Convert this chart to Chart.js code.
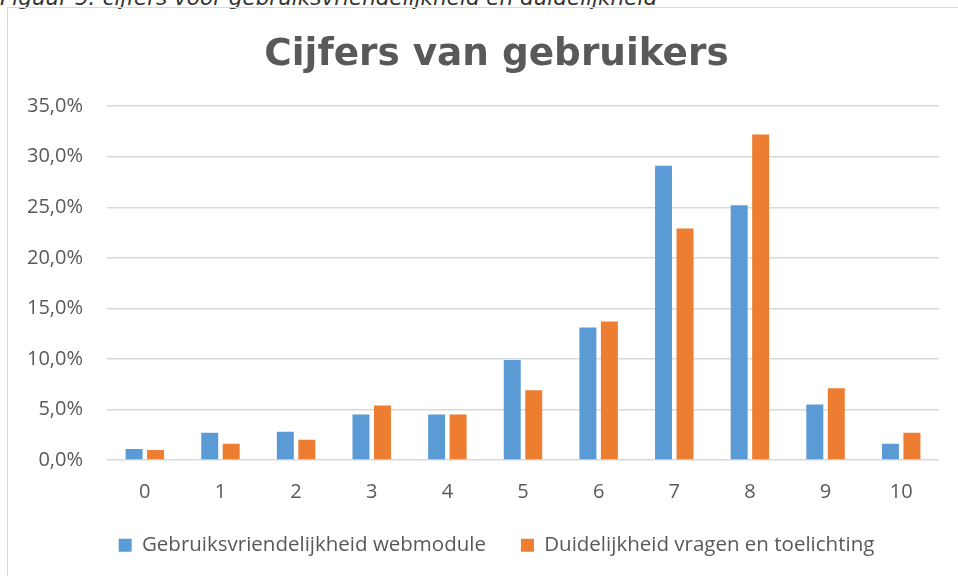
<!DOCTYPE html>
<html>
<head>
<meta charset="utf-8">
<script src="https://cdn.jsdelivr.net/npm/chart.js@4"></script>
<style>
  html, body { margin: 0; padding: 0; background: #fff; width: 958px; height: 576px; overflow: hidden; position: relative; }
  #caption { position: absolute; left: 0; top: -13px; font-family: "DejaVu Sans", sans-serif; font-style: italic; font-size: 21.5px; line-height: 21.5px; color: #333; white-space: nowrap; }
  #frame { position: absolute; left: 7px; top: 7px; border-left: 1px solid #d9d9d9; border-top: 1px solid #d9d9d9; width: 977px; height: 569px; }
  canvas { position: absolute; left: 0; top: 0; }
</style>
</head>
<body>
<div id="caption">Figuur 5: cijfers voor gebruiksvriendelijkheid en duidelijkheid</div>
<div id="frame"><canvas id="c" width="977" height="568"></canvas></div>
<script>
const chartTitle = 'Cijfers van gebruikers';
const categories = ['0', '1', '2', '3', '4', '5', '6', '7', '8', '9', '10'];
const seriesNames = ['Gebruiksvriendelijkheid webmodule', 'Duidelijkheid vragen en toelichting'];
const gebruiksvriendelijkheid = [1.1, 2.7, 2.8, 4.5, 4.5, 9.9, 13.1, 29.1, 25.2, 5.5, 1.6];
const duidelijkheid = [1.0, 1.6, 2.0, 5.4, 4.5, 6.9, 13.7, 22.9, 32.2, 7.1, 2.7];
const yMax = 35;
const yStep = 5;

const textColor = '#595959';
const tickFont = { family: '"Open Sans", sans-serif', size: 20 };
const xTickFont = { family: '"Open Sans", sans-serif', size: 20, lineHeight: 0.8 };
const legendFont = { family: '"Open Sans", sans-serif', size: 20.5 };

new Chart(document.getElementById('c'), {
  type: 'bar',
  data: {
    labels: categories,
    datasets: [
      { label: seriesNames[0], data: gebruiksvriendelijkheid, backgroundColor: '#5B9BD5', borderWidth: 0 },
      { label: seriesNames[1], data: duidelijkheid, backgroundColor: '#ED7D31', borderWidth: 0 }
    ]
  },
  options: {
    responsive: false,
    animation: false,
    devicePixelRatio: 1,
    categoryPercentage: 0.568,
    barPercentage: 0.79,
    layout: { padding: { left: 0, right: 0, top: 0, bottom: 10.5 } },
    plugins: {
      title: {
        display: true,
        text: chartTitle,
        color: textColor,
        font: { family: '"DejaVu Sans", Verdana, sans-serif', size: 37.4, weight: 'bold' },
        padding: { top: 25.3, bottom: 28 }
      },
      legend: {
        position: 'bottom',
        labels: {
          color: textColor,
          font: legendFont,
          boxWidth: 13,
          boxHeight: 13,
          padding: 35
        }
      },
      tooltip: { enabled: false }
    },
    scales: {
      x: {
        grid: { display: false, drawTicks: false },
        border: { display: false },
        ticks: { color: textColor, font: xTickFont, padding: 24 },
        afterFit: (s) => { s.height = 40; }
      },
      y: {
        min: 0,
        max: yMax,
        grid: { color: '#d9d9d9', lineWidth: 1.5, drawTicks: false },
        border: { display: false },
        ticks: {
          stepSize: yStep,
          color: textColor,
          font: tickFont,
          padding: 24,
          callback: (v) => v.toFixed(1).replace('.', ',') + '%'
        },
        afterFit: (s) => { s.width = 99; }
      },
      yRight: {
        type: 'linear',
        position: 'right',
        display: true,
        grid: { display: false, drawTicks: false },
        border: { display: false },
        ticks: { display: false },
        afterFit: (s) => { s.width = 46; }
      }
    }
  }
});
</script>
</body>
</html>
